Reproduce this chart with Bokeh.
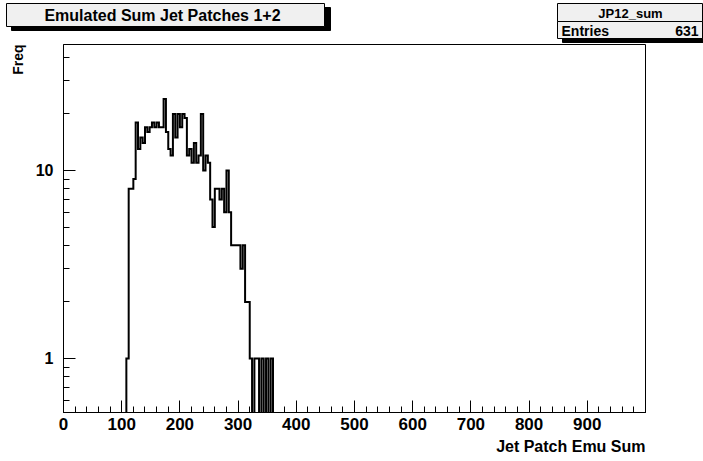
import numpy as np
from bokeh.plotting import figure
from bokeh.layouts import column
from bokeh.models import Range1d, FixedTicker, Title
from bokeh.core.properties import value
from bokeh.embed import file_html
from bokeh.resources import INLINE

# Histogram JP12_sum: bins of width 4 starting at 108
bin_width = 4
first_bin = 108
counts = [1, 8, 8, 9, 18, 13, 15, 14, 17, 16, 17, 18, 17, 18, 17, 17,
          24, 16, 13, 12, 20, 15, 20, 17, 20, 19, 12, 13, 11, 14, 11, 12,
          20, 10, 12, 11, 7, 5, 8, 8, 7, 8, 6, 10, 6, 4, 4, 4,
          4, 3, 4, 2, 2, 1, 0, 1, 1, 0, 1, 0, 1, 0, 1]
hist_name = "JP12_sum"
entries = 631
title_text = "Emulated Sum Jet Patches 1+2"
x_title = "Jet Patch Emu Sum"
y_title = "Freq"

x_major = list(range(0, 1001, 100))
x_minor = list(range(0, 1001, 20))
y_major = [1, 10]
y_minor = [0.6, 0.7, 0.8, 0.9, 2, 3, 4, 5, 6, 7, 8, 9, 20, 30, 40]

FONT = "Liberation Sans"
W = 703
TOP_H = 43
MAIN_H = 461 - TOP_H

# ---- strip above the frame: title pave and stats pave ----
top = figure(width=W, height=TOP_H, x_range=Range1d(0, W), y_range=Range1d(TOP_H, 0),
             min_border=0, output_backend="svg", toolbar_location=None)
top.axis.visible = False
top.grid.visible = False
top.outline_line_color = None
top.background_fill_color = "white"
top.border_fill_color = "white"

# shadows
top.quad(left=[11, 562], right=[330, 710], top=[7, 8], bottom=[30, 42],
         fill_color="black", line_color="black")
# pave bodies
top.quad(left=[6, 557, 557], right=[324, 702, 702], top=[3, 3, 21], bottom=[26, 21, 38],
         fill_color="#f0f0f0", line_color="black", line_width=1)
top.text(x=[162], y=[15], text=[title_text], text_align="center", text_baseline="middle",
         text_font=value(FONT), text_font_style="bold", text_font_size="16px", text_color="black")
top.text(x=[630], y=[12.5], text=[hist_name], text_align="center", text_baseline="middle",
         text_font=value(FONT), text_font_style="bold", text_font_size="13px", text_color="black")
top.text(x=[561], y=[30], text=["Entries"], text_align="left", text_baseline="middle",
         text_font=value(FONT), text_font_style="bold", text_font_size="14px", text_color="black")
top.text(x=[698], y=[30], text=[str(entries)], text_align="right", text_baseline="middle",
         text_font=value(FONT), text_font_style="bold", text_font_size="14px", text_color="black")

# ---- histogram frame ----
p = figure(width=W, height=MAIN_H, x_range=Range1d(0, 1000), y_range=Range1d(0.516, 46.8),
           y_axis_type="log", output_backend="svg", toolbar_location=None,
           min_border_left=63, min_border_right=58, min_border_top=1, min_border_bottom=49)
p.background_fill_color = "white"
p.border_fill_color = "white"
p.outline_line_color = "black"
p.outline_line_width = 1
p.grid.visible = False

# keep each plot's frame where its own borders put it
for fig in (top, p):
    try:
        fig.frame_align = False
    except AttributeError:
        pass

# step outline; empty bins drop below the frame
edges = first_bin + bin_width * np.arange(len(counts) + 1)
floor = 0.01
drawn = np.where(np.array(counts) > 0, np.array(counts, dtype=float), floor)
xs = np.repeat(edges, 2)
ys = np.concatenate([[floor], np.repeat(drawn, 2), [floor]])
p.line(xs, ys, line_color="black", line_width=2, line_join="miter")

for ax in (p.xaxis[0], p.yaxis[0]):
    ax.major_tick_in = 12
    ax.major_tick_out = 0
    ax.minor_tick_in = 6
    ax.minor_tick_out = 0
    ax.axis_line_color = "black"
    ax.major_tick_line_color = "black"
    ax.minor_tick_line_color = "black"
    ax.major_label_text_font = FONT
    ax.major_label_text_font_style = "bold"
    ax.major_label_text_color = "black"

p.xaxis[0].ticker = FixedTicker(ticks=x_major, minor_ticks=x_minor)
p.xaxis[0].major_label_overrides = {1000: ""}
p.xaxis[0].major_label_text_font_size = "17px"
p.xaxis[0].major_label_standoff = 5

p.yaxis[0].ticker = FixedTicker(ticks=y_major, minor_ticks=y_minor)
p.yaxis[0].major_label_overrides = {1: "1", 10: "10"}
p.yaxis[0].major_label_text_font_size = "16px"
p.yaxis[0].major_label_standoff = 10

p.add_layout(Title(text=x_title, align="right", text_font=FONT, text_font_style="bold",
                   text_font_size="16px", text_color="black", standoff=6), "below")
p.add_layout(Title(text=y_title, align="right", text_font=FONT, text_font_style="bold",
                   text_font_size="14px", text_color="black", standoff=13), "left")

layout = column(top, p, spacing=0)
open("out.html", "w").write(file_html(layout, INLINE))
